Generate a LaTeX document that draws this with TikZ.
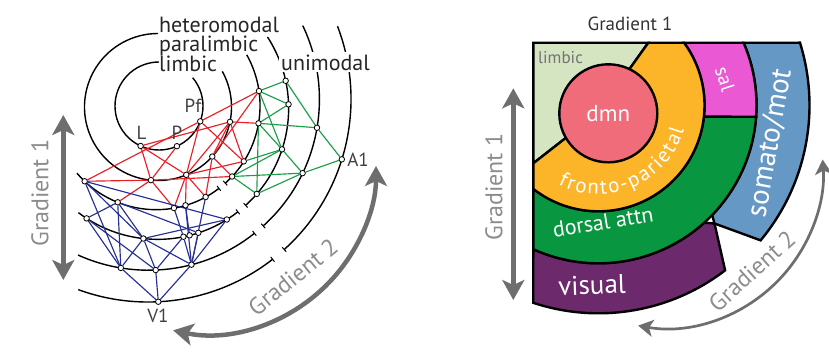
\documentclass[tikz,border=0pt]{standalone}
\usepackage{fontspec}
\setmainfont{PT Sans}
\usetikzlibrary{arrows.meta,calc,decorations.text}
\pgfdeclarelayer{bg}
\pgfsetlayers{bg,main}
\newcommand{\myfs}[1]{\fontsize{#1}{#1}\selectfont}
\newcommand{\onring}[5]{\node[nd] (#1) at ($(#2)!#3pt!(#4,#5)$) {};}
\definecolor{netred}{RGB}{232,32,40}
\definecolor{netgreen}{RGB}{26,158,72}
\definecolor{netblue}{RGB}{38,48,150}
\definecolor{arrowgray}{RGB}{110,110,110}
\definecolor{textgray}{RGB}{140,140,140}
\definecolor{limbicc}{RGB}{213,228,193}
\definecolor{dmnc}{RGB}{240,108,122}
\definecolor{orangec}{RGB}{252,180,40}
\definecolor{salc}{RGB}{234,88,212}
\definecolor{dorsalc}{RGB}{8,150,64}
\definecolor{somatoc}{RGB}{102,152,198}
\definecolor{visualc}{RGB}{108,42,108}
\begin{document}
\begin{tikzpicture}[x=1pt, y=-1pt,
  ring/.style={line width=1.4pt, draw=black},
  nd/.style={circle, draw=black, fill=white, inner sep=0pt, minimum size=5.5pt, line width=0.8pt},
  rl/.style={draw=netred, line width=1.15pt},
  gl/.style={draw=netgreen, line width=1.15pt},
  bl/.style={draw=netblue, line width=1.15pt},
  tickend/.style={-{Bar[width=6pt,line width=1pt]}},
  tickstart/.style={{Bar[width=6pt,line width=1pt]}-},
  garrow/.style={draw=arrowgray, line width=4.5pt, {Stealth[length=20pt,width=22pt,inset=5pt]}-{Stealth[length=20pt,width=22pt,inset=5pt]}},
  thinarrow/.style={draw=arrowgray, line width=2.7pt, {Stealth[length=15pt,width=17pt,inset=4pt]}-{Stealth[length=15pt,width=17pt,inset=4pt]}},
  region/.style={line width=2.4pt, draw=black},
  lbl/.style={font=\myfs{22}, inner sep=0pt, text=black!85},
  glbl/.style={font=\myfs{24}, text=textgray, inner sep=0pt},
  nlbl/.style={font=\myfs{19}, text=black!75, inner sep=0pt},
  wlbl/.style={text=white, inner sep=0pt}
]
\useasboundingbox (0,0) rectangle (829,351);

% ---------------- left panel: rings ----------------
\coordinate (C1) at (159,106);
\coordinate (C2) at (158,107);
\coordinate (C3) at (156,105.6);
\coordinate (C4) at (157.6,108.3);
\coordinate (C5) at (148.4,99.2);
\coordinate (C6) at (148,99);

\begin{pgfonlayer}{bg}
\draw[ring] (C1) ++(-40:44) arc[start angle=-40, end angle=270, radius=44];
\draw[ring] (C2) ++(-29:73.5) arc[start angle=-29, end angle=270, radius=73.5];
\draw[ring, tickend] (C3) ++(-29.2:104) arc[start angle=-29.2, end angle=48.5, radius=104];
\draw[ring, tickstart] (C3) ++(52.5:104) arc[start angle=52.5, end angle=139.5, radius=104];
\draw[ring, tickend] (C4) ++(-33:131) arc[start angle=-33, end angle=48, radius=131];
\draw[ring, tickstart] (C4) ++(52:131) arc[start angle=52, end angle=127.2, radius=131];
\draw[ring, tickend] (C5) ++(-25.5:171) arc[start angle=-25.5, end angle=48, radius=171];
\draw[ring, tickstart] (C5) ++(51.5:171) arc[start angle=51.5, end angle=114.3, radius=171];
\draw[ring, tickend] (C6) ++(-21:203) arc[start angle=-21, end angle=48, radius=203];
\draw[ring, tickstart] (C6) ++(52:203) arc[start angle=52, end angle=110.1, radius=203];
\end{pgfonlayer}

% ---------------- left panel: network nodes ----------------
\onring{L}{C1}{44}{140.7}{145.7}
\onring{P}{C1}{44}{176.7}{145.7}
\onring{Pf}{C1}{44}{198}{120.5}
\onring{a1}{C2}{73.5}{229.3}{121.7}
\onring{a2}{C2}{73.5}{211.7}{156}
\onring{a3}{C2}{73.5}{186}{174.2}
\onring{a4}{C2}{73.5}{151}{179.3}
\onring{b0}{C3}{104}{86.5}{179.3}
\onring{b1}{C3}{104}{259.3}{91}
\onring{b2}{C3}{104}{258.3}{123.3}
\onring{b3}{C3}{104}{244.3}{161.7}
\onring{b4}{C3}{104}{232.3}{176.7}
\onring{b5}{C3}{104}{206}{197.7}
\onring{b6}{C3}{104}{185.7}{206}
\onring{b7}{C3}{104}{174}{208.3}
\onring{b8}{C3}{104}{118.3}{200.8}
\onring{c1}{C4}{131}{286}{80.7}
\onring{c2}{C4}{131}{288.7}{104.3}
\onring{c3}{C4}{131}{281}{149}
\onring{c4}{C4}{131}{255.7}{193}
\onring{e1}{C4}{131}{86}{219.3}
\onring{e2}{C4}{131}{143.3}{239.3}
\onring{e3}{C4}{131}{183.3}{236}
\onring{e3b}{C4}{131}{189.5}{235}
\onring{e4}{C4}{131}{198.3}{232.7}
\onring{e5}{C4}{131}{226.7}{219.3}
\onring{d1}{C5}{171}{316.7}{127.7}
\onring{d2}{C5}{171}{305}{174.3}
\onring{f1}{C5}{171}{121}{267}
\onring{f2}{C5}{171}{155.7}{270}
\onring{f3}{C5}{171}{192}{266.7}
\onring{A1}{C6}{203}{341.7}{159.3}
\onring{V1}{C6}{203}{158.3}{301.7}

\begin{pgfonlayer}{bg}
\foreach \u/\v in {b0/Pf, Pf/b1, b0/a4, a4/b4, L/a4, L/a3, a3/b5, P/a4, b8/a4, L/a1,
  Pf/a3, a3/b7, a1/a2, a2/b5, a1/b2, a1/b3, a2/b4, a3/b3, a3/b6, a4/b7, b1/a2, a1/a3, Pf/b3}
  \draw[rl] (\u) -- (\v);
\foreach \u/\v in {b1/c1, c1/d1, b1/c2, c2/b2, b2/d1, b1/c3, b2/c3, b2/c4, d1/A1, A1/d2,
  c3/b4, c3/b3, d2/b4, d2/c4, c3/d2, b4/c4}
  \draw[gl] (\u) -- (\v);
\foreach \u/\v in {b0/f1, b0/e2, b0/e5, b8/e1, b8/f1, b8/e4, b8/e2, e1/f1, e1/f2, e2/f1,
  e2/f2, e2/f3, e2/e5, f1/V1, f2/V1, f3/V1, f3/e3, f3/e4, f3/b5, f3/e5, f3/b6, f2/e3,
  e3/b7, e3b/b6}
  \draw[bl] (\u) -- (\v);
\end{pgfonlayer}

% ---------------- left panel: labels ----------------
\node[lbl, anchor=base west] (thet) at (159,32) {heteromodal};
\node[lbl, anchor=base west] (tpar) at (159,51) {paralimbic};
\node[lbl, anchor=base west] (tlim) at (159,71) {limbic};
\node[lbl, anchor=base west, fill=white, inner sep=2pt] (tuni) at (279,70) {unimodal};
\node[nlbl] (tL) at (141.5,133) {L};
\node[nlbl] (tP) at (177,133) {P};
\node[nlbl] (tPf) at (193,106) {Pf};
\node[nlbl] (tA1) at (358,160) {A1};
\node[nlbl] (tV1) at (158,316) {V1};

% gradient arrows, left
\coordinate (g1a) at (63.3,115);
\coordinate (g1b) at (63.3,280);
\draw[garrow] (g1a) -- (g1b);
\node[glbl, rotate=90] (tg1l) at (40,193) {Gradient 1};
\coordinate (G2L) at (208,166);
\coordinate (g2a) at ($(G2L)+(102:168)$);
\draw[garrow] (g2a) arc[start angle=102, end angle=0, radius=168];
\node[glbl, rotate=39] (tg2l) at (293,277) {Gradient 2};

% ---------------- right panel ----------------
\coordinate (O) at (598.5,105.3);
\coordinate (D) at (608.3,113.3);
\coordinate (notch) at (714.5,223.5);

% visual
\path[region, fill=visualc] (notch) -- ($(O)+(52.5:208)$)
  arc[start angle=52.5, end angle=108.3, radius=208]
  -- ($(O)+(114.37:158)$) arc[start angle=114.37, end angle=48, radius=158] -- cycle;
% somato/mot
\path[region, fill=somatoc] ($(O)+(-23.34:158)$) -- ($(O)+(-17.26:211)$)
  arc[start angle=-17.26, end angle=39.8, radius=211]
  -- (notch) -- ($(O)+(44:158)$) arc[start angle=44, end angle=-23.34, radius=158] -- cycle;
% dorsal attention
\path[region, fill=dorsalc] ($(O)+(6.17:106)$) -- ($(O)+(4.14:158)$)
  arc[start angle=4.14, end angle=114.37, radius=158]
  -- ($(O)+(127.96:106)$) arc[start angle=127.96, end angle=6.17, radius=106] -- cycle;
% salience
\path[region, fill=salc] ($(O)+(-36.2:106)$) -- ($(O)+(-23.34:158)$)
  arc[start angle=-23.34, end angle=4.14, radius=158]
  -- ($(O)+(6.17:106)$) arc[start angle=6.17, end angle=-36.2, radius=106] -- cycle;
% limbic
\path[region, fill=limbicc] (533.3,42.7) -- (648.3,42.7) -- (630,68.3) -- (565.7,138)
  -- (533.3,163.3) -- cycle;
% fronto-parietal
\path[region, fill=orangec] ($(O)+(-36.2:106)$) arc[start angle=-36.2, end angle=127.96, radius=106]
  -- (533.3,163.3) -- (565.7,138) -- (630,68.3) -- (648.3,42.7) -- cycle;
% dmn
\path[region, fill=dmnc] (D) circle[radius=49];

% right labels
\node[font=\myfs{19}, text=black!80] (tg1top) at (630,24) {Gradient 1};
\node[font=\myfs{17}, text=black!55, anchor=base west, inner sep=0pt] (tlimr) at (538,63.3) {limbic};
\node[wlbl, font=\myfs{23}] (tdmn) at (D) {dmn};
\node[wlbl, font=\myfs{20}, rotate=-72] (tsal) at (725,79) {sal};
\node[wlbl, font=\myfs{29}, rotate=80] (tsom) at (770,143) {somato/mot};
\node[wlbl, font=\myfs{22}, rotate=9] (tdor) at (603,222) {dorsal attn};
\node[wlbl, font=\myfs{27}, rotate=2] (tvis) at (592,285) {visual};
\path[decorate, decoration={text along path, text align=fit to path,
  text={|\myfs{21}\color{white}|fronto-parietal}}]
  ($(O)+(117:89)$) arc[start angle=117, end angle=16, radius=89];

% gradient arrows, right
\coordinate (g1c) at (513.3,88.3);
\coordinate (g1d) at (513.3,300);
\draw[garrow] (g1c) -- (g1d);
\node[glbl, rotate=90] (tg1r) at (494,187) {Gradient 1};
\coordinate (G2R) at (665.5,170.5);
\coordinate (g2c) at ($(G2R)+(100:157.5)$);
\draw[thinarrow] (g2c) arc[start angle=100, end angle=-4, radius=157.5];
\node[glbl, rotate=42] (tg2r) at (752,271) {Gradient 2};
\end{tikzpicture}
\end{document}
